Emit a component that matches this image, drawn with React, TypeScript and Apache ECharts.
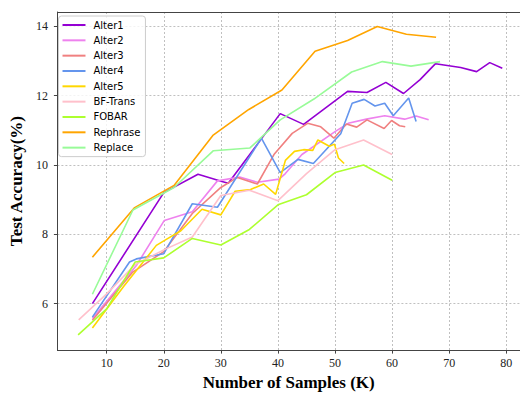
import React, { useEffect, useRef } from "react";
import * as echarts from "echarts";

const seriesNames = ["Alter1", "Alter2", "Alter3", "Alter4", "Alter5", "BF-Trans", "FOBAR", "Rephrase", "Replace"];
const seriesColors = ["#9400D3", "#EE82EE", "#F08080", "#6495ED", "#FFD700", "#FFC0CB", "#ADFF2F", "#FFA500", "#98FB98"];

const alter1K = [7.5, 20, 26, 30.2, 31.3, 40.4, 44.5, 52.2, 55.6, 58.9, 62, 64.9, 67.6, 72, 74.8, 77.1, 79.3];
const alter1Acc = [6.0, 9.2, 9.73, 9.52, 9.47, 11.48, 11.17, 12.12, 12.09, 12.38, 12.06, 12.46, 12.92, 12.81, 12.69, 12.95, 12.79];

const alter2K = [7.5, 15.2, 20.1, 25, 29.4, 33.3, 36.4, 40.2, 41.3, 44.2, 50, 52.3, 55.5, 58.7, 62.2, 64.2, 66.4];
const alter2Acc = [5.57, 7.1, 8.4, 8.65, 9.54, 9.65, 9.5, 9.59, 9.75, 10.3, 10.96, 11.2, 11.32, 11.42, 11.32, 11.41, 11.3];

const alter3K = [7.5, 14.5, 20, 25, 30, 32.9, 36.4, 39.3, 42.5, 45.2, 47.5, 49.8, 52, 53.8, 55.6, 58.6, 59.9, 61.3, 62.3];
const alter3Acc = [5.52, 6.9, 7.5, 8.6, 9.35, 9.64, 9.45, 10.3, 10.91, 11.2, 11.1, 10.77, 11.18, 11.09, 11.3, 11.05, 11.28, 11.13, 11.1];

const alter4K = [7.5, 14, 15.2, 20, 25, 29.4, 37.1, 40.4, 43.5, 46.2, 51, 53, 55.1, 57, 58.7, 60.2, 62.9, 64.2];
const alter4Acc = [5.61, 7.2, 7.29, 7.44, 8.88, 8.78, 10.77, 9.78, 10.16, 10.04, 10.9, 11.78, 11.89, 11.7, 11.78, 11.42, 11.93, 11.25];

const alter5K = [7.5, 13, 18.7, 20.3, 23, 26.7, 30, 32.5, 35.2, 37.5, 39.6, 41.3, 42.9, 44.5, 46.1, 47, 49, 49.9, 50.6, 51.6];
const alter5Acc = [5.3, 6.5, 7.68, 7.84, 8.1, 8.72, 8.56, 9.24, 9.29, 9.45, 9.15, 10.13, 10.39, 10.44, 10.42, 10.72, 10.54, 10.6, 10.2, 10.04];

const bfTransK = [5.1, 10, 15, 20, 25, 30, 35, 40, 45, 50, 55, 60];
const bfTransAcc = [5.53, 6.28, 7.13, 7.55, 7.92, 9.12, 9.27, 8.97, 9.75, 10.44, 10.72, 10.3];

const fobarK = [5, 10, 15, 20, 25, 30, 35, 40, 45, 50, 55, 60];
const fobarAcc = [5.1, 5.85, 7.2, 7.32, 7.88, 7.69, 8.14, 8.85, 9.14, 9.78, 10.0, 9.56];

const rephraseK = [7.5, 14.9, 21.8, 28.6, 34.9, 40.7, 46.5, 52.2, 57.4, 62.5, 67.7];
const rephraseAcc = [7.34, 8.77, 9.41, 10.85, 11.6, 12.16, 13.28, 13.59, 13.99, 13.77, 13.68];

const replaceK = [7.5, 14.6, 21.8, 28.7, 35.1, 40.4, 46.3, 52.9, 58.3, 63.3, 68.4];
const replaceAcc = [6.27, 8.7, 9.35, 10.41, 10.49, 11.3, 11.9, 12.68, 12.98, 12.85, 12.98];

const xTicks = [10, 20, 30, 40, 50, 60, 70, 80];
const yTicks = [6, 8, 10, 12, 14];

const allK = [alter1K, alter2K, alter3K, alter4K, alter5K, bfTransK, fobarK, rephraseK, replaceK];
const allAcc = [alter1Acc, alter2Acc, alter3Acc, alter4Acc, alter5Acc, bfTransAcc, fobarAcc, rephraseAcc, replaceAcc];

const serif = "'Liberation Serif', 'DejaVu Serif', serif";
const X_MIN = 1.37;
const X_MAX = 82.4;

export default function App() {
  const ref = useRef<HTMLDivElement>(null);
  useEffect(() => {
    document.body.style.margin = "0";
    if (!ref.current) return;
    const chart = echarts.init(ref.current, null, { renderer: "svg" });
    const series = seriesNames.map((name, i) => ({
      name,
      type: "line",
      data: allK[i].map((k, j) => [k, allAcc[i][j]]),
      symbol: "none",
      showSymbol: false,
      lineStyle: { color: seriesColors[i], width: 1.6 },
      itemStyle: { color: seriesColors[i] },
      emphasis: { disabled: true },
    }));
    chart.setOption({
      animation: false,
      backgroundColor: "#ffffff",
      grid: {
        left: 54,
        top: 12,
        right: 0,
        height: 343,
        show: false,
        containLabel: false,
      },
      legend: {
        show: true,
        orient: "vertical",
        left: 58.5,
        top: 16,
        padding: [4, 5, 4, 3],
        itemWidth: 23,
        itemHeight: 10,
        itemGap: 5.33,
        backgroundColor: "rgba(255,255,255,0.8)",
        borderColor: "#cccccc",
        borderWidth: 1,
        borderRadius: 3,
        itemStyle: { opacity: 0, borderWidth: 0 },
        lineStyle: { width: 2 },
        textStyle: {
          fontFamily: "'DejaVu Sans', sans-serif",
          fontSize: 10,
          color: "#000",
          padding: [0, 0, 0, 3],
        },
        data: seriesNames,
      },
      xAxis: [
        {
          type: "value",
          min: X_MIN,
          max: X_MAX,
          position: "bottom",
          name: "Number of Samples (K)",
          nameLocation: "middle",
          nameGap: 20,
          nameTextStyle: { fontFamily: serif, fontWeight: "bold", fontSize: 17, color: "#000" },
          axisLine: { show: true, onZero: false, lineStyle: { color: "#444", width: 1 } },
          axisTick: { show: true, inside: false, length: 3.5, customValues: xTicks, lineStyle: { color: "#444" } },
          axisLabel: { customValues: xTicks, margin: 7, fontFamily: serif, fontSize: 12, color: "#222" },
          splitLine: { show: true, lineStyle: { color: "#b0b0b0", type: [2, 2], width: 0.8 } },
        },
        {
          type: "value",
          min: X_MIN,
          max: X_MAX,
          position: "top",
          axisLine: { show: true, onZero: false, lineStyle: { color: "#444", width: 1 } },
          axisTick: { show: false },
          axisLabel: { show: false },
          splitLine: { show: false },
        },
      ],
      yAxis: {
        type: "value",
        min: 4.66,
        max: 14.41,
        name: "Test Accuracy(%)",
        nameLocation: "middle",
        nameGap: 25,
        nameTextStyle: { fontFamily: serif, fontWeight: "bold", fontSize: 17, color: "#000" },
        axisLine: { show: true, onZero: false, lineStyle: { color: "#444", width: 1 } },
        axisTick: { show: true, inside: false, length: 3.5, customValues: yTicks, lineStyle: { color: "#444" } },
        axisLabel: { customValues: yTicks, margin: 9.5, fontFamily: serif, fontSize: 12, color: "#222" },
        splitLine: { show: true, lineStyle: { color: "#b0b0b0", type: [2, 2], width: 0.8 } },
      },
      series,
    });
    return () => chart.dispose();
  }, []);
  return <div ref={ref} style={{ width: 520, height: 396, position: "absolute", left: 0, top: 0 }} />;
}
